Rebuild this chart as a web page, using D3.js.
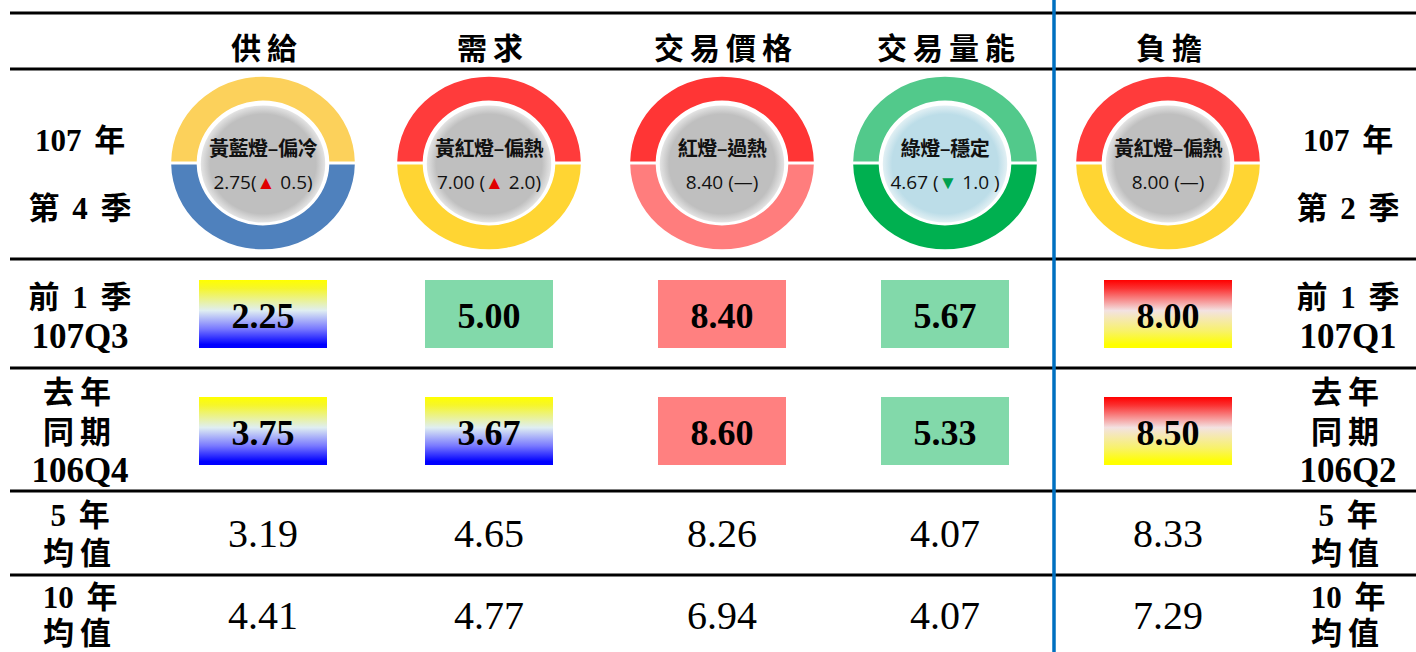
<!DOCTYPE html>
<html>
<head>
<meta charset="utf-8">
<script src="https://cdn.jsdelivr.net/npm/d3@7"></script>
<style>
  body { margin: 0; background: #fff; }
  svg { display: block; }
</style>
</head>
<body>
<script>
var width = 1416, height = 652;

// columns and signals
var columns = ["供給", "需求", "交易價格", "交易量能", "負擔"];
var curSignal = ["黃藍燈", "黃紅燈", "紅燈", "綠燈", "黃紅燈"];
var curMood = ["偏冷", "偏熱", "過熱", "穩定", "偏熱"];
var curValue = [2.75, 7.00, 8.40, 4.67, 8.00];
var curChange = [0.5, 2.0, 0, -1.0, 0];

var prevValue = [2.25, 5.00, 8.40, 5.67, 8.00];
var prevSignal = ["黃藍燈", "綠燈", "紅燈", "綠燈", "黃紅燈"];
var lastYearValue = [3.75, 3.67, 8.60, 5.33, 8.50];
var lastYearSignal = ["黃藍燈", "黃藍燈", "紅燈", "綠燈", "黃紅燈"];
var avg5 = [3.19, 4.65, 8.26, 4.07, 8.33];
var avg10 = [4.41, 4.77, 6.94, 4.07, 7.29];

var leftLabels = [["107 年", "第 4 季"], ["前 1 季", "107Q3"], ["去年", "同期", "106Q4"], ["5 年", "均值"], ["10 年", "均值"]];
var rightLabels = [["107 年", "第 2 季"], ["前 1 季", "107Q1"], ["去年", "同期", "106Q2"], ["5 年", "均值"], ["10 年", "均值"]];

// layout
var x = d3.scaleOrdinal().domain(columns).range([263, 489, 722, 945, 1168]);
var rowLines = [13, 69, 259, 368, 491, 575];
var labelY = [[140, 208], [297, 336], [392, 432, 470], [515, 553], [597, 633]];

var ringColor = {
  "黃藍燈": ["#fcd15b", "#4f81bd"],
  "黃紅燈": ["#ff3b3b", "#ffd533"],
  "紅燈": ["#ff3535", "#ff7d7d"],
  "綠燈": ["#52c98b", "#00b050"]
};
var boxFill = {
  "黃藍燈": "url(#gYB)",
  "黃紅燈": "url(#gRY)",
  "紅燈": "#ff8080",
  "綠燈": "#82d9aa"
};

var cjk = "'Noto Sans CJK TC', 'Noto Sans CJK JP', sans-serif";
var serif = "'Liberation Serif', 'Noto Sans CJK TC', serif";

var svg = d3.select("body").append("svg")
    .attr("width", width)
    .attr("height", height);

var defs = svg.append("defs");
function grad(id, stops) {
  var g = defs.append("linearGradient").attr("id", id)
      .attr("x1", 0).attr("y1", 0).attr("x2", 0).attr("y2", 1);
  stops.forEach(function(s) {
    g.append("stop").attr("offset", s[0]).attr("stop-color", s[1]);
  });
}
grad("gYB", [[0, "#ffff00"], [0.12, "#f6f62a"], [0.45, "#dfeef2"], [0.72, "#7878ff"], [0.95, "#0000ff"], [1, "#0000ff"]]);
grad("gRY", [[0, "#ff0000"], [0.12, "#fb3030"], [0.45, "#f3e2e2"], [0.75, "#f8f26a"], [0.95, "#ffff00"], [1, "#ffff00"]]);

var rg = defs.append("radialGradient").attr("id", "gGrey");
rg.append("stop").attr("offset", 0.85).attr("stop-color", "#bfbfbf");
rg.append("stop").attr("offset", 1).attr("stop-color", "#e4e4e4");
var rb = defs.append("radialGradient").attr("id", "gBlue");
rb.append("stop").attr("offset", 0.85).attr("stop-color", "#bcdde8");
rb.append("stop").attr("offset", 1).attr("stop-color", "#e2f0f4");

// horizontal rules
svg.append("g").selectAll("line")
  .data(rowLines)
  .enter().append("line")
    .attr("x1", 10).attr("x2", width)
    .attr("y1", function(d) { return d; })
    .attr("y2", function(d) { return d; })
    .attr("stroke", "#000")
    .attr("stroke-width", 3);

// column headers
svg.append("g").selectAll("text")
  .data(columns)
  .enter().append("text")
    .attr("x", function(d) { return x(d) + 4; })
    .attr("y", 46)
    .attr("text-anchor", "middle")
    .attr("dominant-baseline", "central")
    .style("font-family", cjk)
    .style("font-weight", 700)
    .style("font-size", "30px")
    .style("letter-spacing", "6px")
    .text(function(d) { return d; });

// donuts
var pie = d3.pie().sort(null).startAngle(-Math.PI / 2).endAngle(Math.PI * 1.5).padAngle(0.026);
var arc = d3.arc().innerRadius(65).outerRadius(90);

var donut = svg.append("g").selectAll("g")
  .data(columns)
  .enter().append("g")
    .attr("transform", function(d) { return "translate(" + x(d) + ",163)"; });

donut.each(function(d, i) {
  var g = d3.select(this);
  var ring = g.append("g").attr("transform", "scale(1.02,0.96)");
  ring.selectAll("path")
    .data(pie([1, 1]))
    .enter().append("path")
      .attr("d", arc)
      .attr("fill", function(p, j) { return ringColor[curSignal[i]][j]; });
  ring.append("circle")
    .attr("r", 61)
    .attr("cy", 1)
    .attr("fill", curSignal[i] == "綠燈" ? "url(#gBlue)" : "url(#gGrey)");

  g.append("text")
    .attr("y", -16)
    .attr("text-anchor", "middle")
    .attr("dominant-baseline", "central")
    .style("font-family", cjk)
    .style("font-weight", 700)
    .style("font-size", "20px")
    .style("letter-spacing", "-0.5px")
    .style("fill", "#111")
    .text(curSignal[i] + "–" + curMood[i]);

  var t = g.append("text")
    .attr("y", 19)
    .attr("text-anchor", "middle")
    .attr("dominant-baseline", "central")
    .style("font-family", "'Open Sans', 'Noto Sans', sans-serif")
    .style("font-size", "19px")
    .style("fill", "#111");
  var c = curChange[i];
  t.append("tspan").text(d3.format(".2f")(curValue[i]) + (i == 0 ? "(" : " ("));
  if (c == 0) {
    t.append("tspan").text("—)");
  } else {
    t.append("tspan")
      .style("fill", c > 0 ? "#e00000" : "#00a050")
      .text(c > 0 ? "▲" : "▼");
    t.append("tspan").text(" " + d3.format(".1f")(Math.abs(c)) + (c < 0 ? " )" : ")"));
  }
});

// coloured value boxes
function boxRow(values, signals, cy) {
  var g = svg.append("g").selectAll("g")
    .data(columns)
    .enter().append("g")
      .attr("transform", function(d) { return "translate(" + x(d) + "," + cy + ")"; });
  g.append("rect")
    .attr("x", -64).attr("y", -34)
    .attr("width", 128).attr("height", 68)
    .attr("fill", function(d, i) { return boxFill[signals[i]]; });
  g.append("text")
    .attr("text-anchor", "middle")
    .attr("dominant-baseline", "central")
    .attr("y", 2)
    .style("font-family", serif)
    .style("font-weight", 700)
    .style("font-size", "36px")
    .text(function(d, i) { return d3.format(".2f")(values[i]); });
}
boxRow(prevValue, prevSignal, 314);
boxRow(lastYearValue, lastYearSignal, 431);

// plain averages
function plainRow(values, cy) {
  svg.append("g").selectAll("text")
    .data(columns)
    .enter().append("text")
      .attr("x", function(d) { return x(d); })
      .attr("y", cy)
      .attr("text-anchor", "middle")
      .attr("dominant-baseline", "central")
      .style("font-family", serif)
      .style("font-size", "40px")
      .text(function(d, i) { return d3.format(".2f")(values[i]); });
}
plainRow(avg5, 533);
plainRow(avg10, 615);

// row labels: words split on spaces get a little extra room
function labels(list, cx) {
  list.forEach(function(lines, r) {
    var t = svg.append("g").selectAll("text")
      .data(lines)
      .enter().append("text")
        .attr("x", cx)
        .attr("y", function(d, k) { return labelY[r][k]; })
        .attr("text-anchor", "middle")
        .attr("dominant-baseline", "central")
        .style("font-family", serif)
        .style("font-weight", 700)
        .style("font-size", function(d) { return /Q/.test(d) ? "35px" : "31px"; })
        .style("letter-spacing", function(d) { return /^[^0-9 ]+$/.test(d) ? "6px" : "0px"; });
    t.each(function(d) {
      var el = d3.select(this);
      d.split(" ").forEach(function(w, k) {
        el.append("tspan")
          .attr("dx", k ? 5 : null)
          .text(k ? " " + w : w);
      });
    });
  });
}
labels(leftLabels, 80);
labels(rightLabels, 1348);

// blue divider
svg.append("line")
  .attr("x1", 1054).attr("x2", 1054)
  .attr("y1", 0).attr("y2", height)
  .attr("stroke", "#0070c0")
  .attr("stroke-width", 3.5);
</script>
</body>
</html>
